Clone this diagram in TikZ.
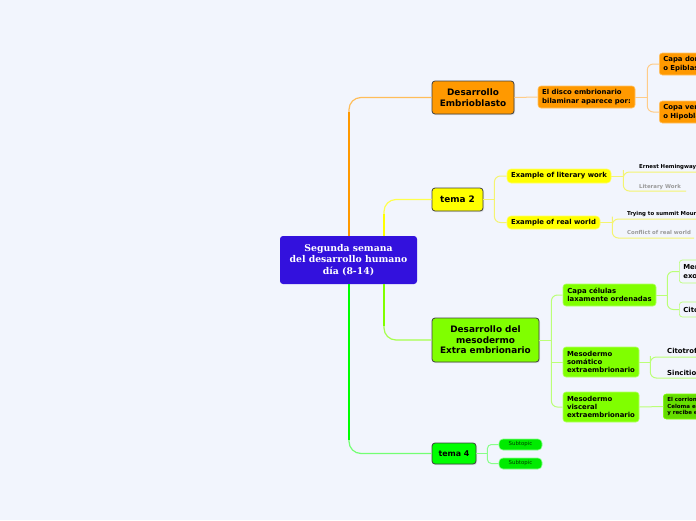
\documentclass[tikz,border=0pt]{standalone}
\usepackage{fontspec}
\setmainfont{DejaVu Sans}
\newfontfamily\centerfont{DejaVu Serif}
\usetikzlibrary{calc,shadows}
\definecolor{bgc}{HTML}{F2F5FD}
\definecolor{cOrange}{HTML}{FF9900}
\definecolor{cOrangeL}{HTML}{FFCC88}
\definecolor{cYellow}{HTML}{FFFF00}
\definecolor{cYellowL}{HTML}{F4F470}
\definecolor{cMeso}{HTML}{80FF00}
\definecolor{cMesoL}{HTML}{BBFF77}
\definecolor{cGreen}{HTML}{00FF00}
\definecolor{cGreenL}{HTML}{88FF88}
\definecolor{cCenter}{HTML}{3311DD}
\definecolor{cCorr}{HTML}{66DD00}
\definecolor{grayt}{HTML}{9A9A9A}
\tikzset{
  main/.style={draw=black!75, line width=0.8pt, fill=#1, rounded corners=3pt, inner sep=0pt,
    drop shadow={opacity=0.2, shadow xshift=1pt, shadow yshift=-1.2pt},
    align=center, font=\bfseries\fontsize{8.9}{10.6}\selectfont},
  sub/.style={draw=#1!60!white, line width=0.6pt, fill=#1, rounded corners=3pt, inner sep=0pt,
    align=left, font=\bfseries\fontsize{6.9}{8.3}\selectfont},
  pill/.style={draw=#1!60!white, line width=0.6pt, fill=#1, rounded corners=4pt, inner sep=0pt,
    align=center, font=\bfseries\fontsize{6.9}{8}\selectfont},
  edgebox/.style={draw=#1, line width=0.7pt, fill=bgc, rounded corners=3pt, inner xsep=4pt, inner ysep=0pt,
    anchor=west, align=left, font=\bfseries\fontsize{6.9}{8.3}\selectfont},
  leaf/.style={inner sep=0pt, anchor=base west, font=\bfseries\fontsize{5.4}{6}\selectfont},
  lo/.style={cOrangeL, line width=1pt, rounded corners=6pt},
  ly/.style={cYellowL, line width=1pt, rounded corners=6pt},
  lm/.style={cMesoL, line width=1pt, rounded corners=6pt},
  lg/.style={cGreenL, line width=1pt, rounded corners=6pt},
}
\begin{document}
\begin{tikzpicture}[x=1pt,y=-1pt]
\useasboundingbox (0,0) rectangle (696,520);
\clip (0,0) rectangle (696,520);
\fill[bgc] (0,0) rectangle (696,520);

% central node
\node[fill=cCenter, rounded corners=3pt, minimum width=137pt, minimum height=48pt, inner sep=0pt,
  text=white, align=center, font=\centerfont\bfseries\fontsize{9.3}{11.5}\selectfont] (c) at (348.5,260)
  {Segunda semana\\del desarrollo humano\\día (8-14)};

% main topics
\node[main=cOrange, minimum width=82pt, minimum height=33pt] (embr) at (473,97.5) {Desarrollo\\Embrioblasto};
\node[main=cYellow, minimum width=51pt, minimum height=23pt] (t2) at (457.5,199.5) {tema 2};
\node[main=cMeso, minimum width=107pt, minimum height=44pt] (meso) at (485.5,340) {Desarrollo del\\mesodermo\\Extra embrionario};
\node[main=cGreen, minimum width=44pt, minimum height=21pt, font=\bfseries\fontsize{7.9}{9}\selectfont] (t4) at (454,453.5) {tema 4};

% connectors from centre
\draw[cOrange!65, line width=1.2pt, rounded corners=12pt] ([xshift=0.5pt]c.north) |- (embr.west);
\draw[cOrange, line width=2.4pt] ([xshift=0.5pt]c.north) -- ($(c.north |- embr.west)+(0.5,14)$);
\draw[cYellow!70, line width=1.2pt, rounded corners=12pt] ([xshift=35.5pt]c.north) |- (t2.west);
\draw[cYellow, line width=2.4pt] ([xshift=35.5pt]c.north) -- ($(c.north |- t2.west)+(35.5,14)$);
\draw[cMeso!70, line width=1.2pt, rounded corners=12pt] ([xshift=35.5pt]c.south) |- (meso.west);
\draw[cMeso, line width=2.4pt] ([xshift=35.5pt]c.south) -- ($(c.south |- meso.west)+(35.5,-14)$);
\draw[cGreen!55, line width=1.2pt, rounded corners=12pt] ([xshift=0.5pt]c.south) |- (t4.west);
\draw[cGreen, line width=2.4pt] ([xshift=0.5pt]c.south) -- ($(c.south |- t4.west)+(0.5,-14)$);

% Embrioblasto branch
\node[sub=cOrange, minimum width=97pt, minimum height=22pt] (disco) at (586.5,97) {El disco embrionario\\bilaminar aparece por:};
\node[sub=cOrange, anchor=west, minimum height=22pt, inner xsep=4pt] (dorsal) at (659,64) {Capa dorsal\\o Epiblasto};
\node[sub=cOrange, anchor=west, minimum height=22pt, inner xsep=4pt] (ventral) at (659,112) {Copa ventral\\o Hipoblasto};
\draw[lo] (embr.east) -- (disco.west);
\coordinate (db) at ($(disco.east)+(12,0)$);
\draw[lo] (disco.east) -- (db);
\draw[lo] (dorsal.west) -| (db) |- (ventral.west);

% tema 2 branch
\node[pill=cYellow, minimum width=104pt, minimum height=14pt] (lit) at (559,176) {Example of literary work};
\node[pill=cYellow, minimum width=93pt, minimum height=13pt] (real) at (553.5,222.5) {Example of real world};
\coordinate (tb) at ($(t2.east)+(11,0)$);
\draw[ly] (t2.east) -- (tb);
\draw[ly] (lit.west) -| (tb) |- (real.west);

\node[leaf] (ern) at (639,168) {Ernest Hemingway};
\node[leaf, text=grayt] (litw) at (639,188) {Literary Work};
\coordinate (ernU) at (700,172);
\coordinate (litwU) at (686,191);
\coordinate (lb) at ($(lit.east)+(12,0)$);
\draw[ly] (lit.east) -- (lb);
\draw[ly] (ernU) -| (lb) |- (litwU);

\node[leaf] (try) at (627,215) {Trying to summit Mount Everest};
\node[leaf, text=grayt] (conf) at (627,234) {Conflict of real world};
\coordinate (tryU) at (700,219);
\coordinate (confU) at (694,238);
\coordinate (rb) at ($(real.east)+(12,0)$);
\draw[ly] (real.east) -- (rb);
\draw[ly] (tryU) -| (rb) |- (confU);

% mesodermo branch
\node[sub=cMeso, minimum width=93pt, minimum height=22pt] (capa) at (609.5,295) {Capa células\\laxamente ordenadas};
\node[sub=cMeso, minimum width=76pt, minimum height=30pt] (soma) at (601,362) {Mesodermo\\somático\\extraembrionario};
\node[sub=cMeso, minimum width=76pt, minimum height=30pt] (visc) at (601,407) {Mesodermo\\visceral\\extraembrionario};
\coordinate (mb) at ($(meso.east)+(12,0)$);
\draw[lm] (meso.east) -- (mb);
\draw[lm] (capa.west) -| (mb) |- (visc.west);
\draw[lm] (mb |- soma.west) -- (soma.west);

\node[edgebox=cMesoL, minimum height=23pt] (memb) at (679,271.5) {Membrana\\exocelómica};
\node[edgebox=cMesoL, minimum height=15pt] (cito) at (679,309.5) {Citotrofoblasto};
\coordinate (cb) at ($(capa.east)+(11,0)$);
\draw[lm] (capa.east) -- (cb);
\draw[lm] (memb.west) -| (cb) |- (cito.west);

\node[leaf, font=\bfseries\fontsize{6.9}{7}\selectfont] (ctf) at (667,353) {Citotrofoblasto};
\node[leaf, font=\bfseries\fontsize{6.9}{7}\selectfont] (sinc) at (667,375) {Sincitio trofoblasto};
\coordinate (ctfU) at (700,357);
\coordinate (sincU) at (700,378);
\coordinate (sb) at ($(soma.east)+(11,0)$);
\draw[lm] (soma.east) -- (sb);
\draw[lm] (ctfU) -| (sb) |- (sincU);

\node[sub=cCorr, draw=cMeso, anchor=west, minimum height=25pt, inner xsep=4pt,
  font=\bfseries\fontsize{5.5}{6.8}\selectfont] (corr) at (663,406.5) {El corrion rodea el\\Celoma extraembrionario\\y recibe el nombre};
\draw[lm] (visc.east) -- (corr.west);

% tema 4 branch
\node[pill=cGreen!92!black, draw=cGreenL, minimum width=43pt, minimum height=11pt, text=black!75!green,
  font=\fontsize{5.4}{6}\selectfont] (s1) at (520.5,444.5) {Subtopic};
\node[pill=cGreen!92!black, draw=cGreenL, minimum width=43pt, minimum height=11pt, text=black!75!green,
  font=\fontsize{5.4}{6}\selectfont] (s2) at (520.5,463.5) {Subtopic};
\coordinate (fb) at ($(t4.east)+(11,0)$);
\draw[lg] (t4.east) -- (fb);
\draw[lg, rounded corners=4pt] (s1.west) -| (fb) |- (s2.west);
\end{tikzpicture}
\end{document}
